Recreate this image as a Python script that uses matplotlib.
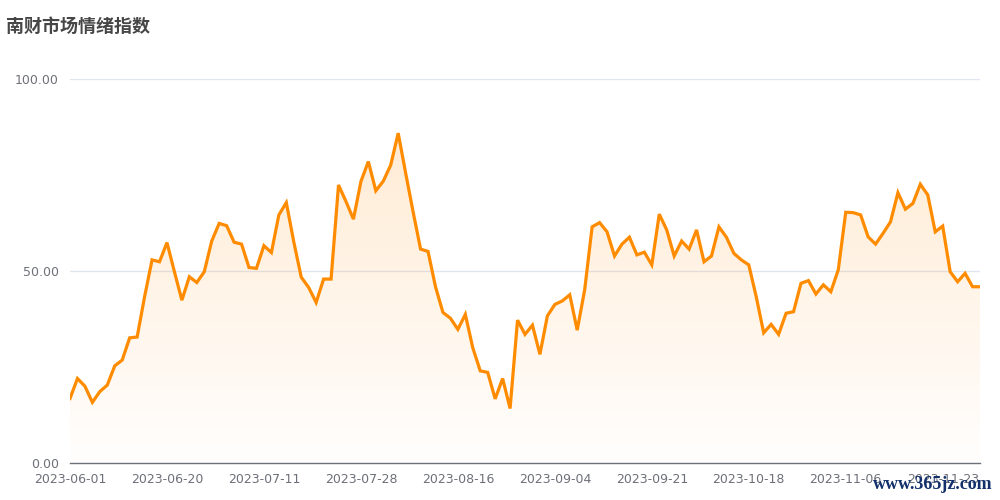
#Header files
import numpy as np
import pandas as pd
import matplotlib
matplotlib.use("Agg")
import matplotlib.pyplot as plt
from matplotlib.colors import LinearSegmentedColormap

plt.rcParams['font.family'] = ['DejaVu Sans', 'Noto Sans CJK SC']

#Trading days (Dragon Boat and National Day holidays removed)
holidays = ["2023-06-22", "2023-06-23", "2023-09-29", "2023-10-02", "2023-10-03",
            "2023-10-04", "2023-10-05", "2023-10-06"]
days = pd.bdate_range("2023-06-01", "2023-11-30")
days = days[~days.isin(pd.to_datetime(holidays))]
dateLabels = [d.strftime("%Y-%m-%d") for d in days]

#Index values
sentiment = [16.8, 22.0, 20.0, 15.8, 18.6, 20.3, 25.3, 26.8, 32.6, 32.8,
             43.3, 52.9, 52.4, 57.4, 49.8, 42.4, 48.5, 47.0, 49.8, 57.8,
             62.4, 61.8, 57.5, 57.0, 50.9, 50.7, 56.6, 54.8, 64.6, 67.8,
             57.6, 48.4, 45.7, 41.8, 47.9, 47.9, 72.4, 68.1, 63.5, 73.3,
             78.5, 70.9, 73.4, 77.6, 85.9, 75.5, 65.4, 55.7, 55.1, 45.9,
             39.2, 37.7, 34.8, 38.7, 30.0, 24.0, 23.6, 16.7, 22.0, 14.2,
             37.2, 33.5, 35.9, 28.3, 38.3, 41.3, 42.2, 43.8, 34.6, 45.1,
             61.5, 62.6, 60.2, 53.9, 57.0, 58.8, 54.2, 54.9, 51.6, 64.8,
             60.7, 53.9, 57.8, 55.7, 60.7, 52.4, 53.9, 61.5, 58.8, 54.6,
             52.9, 51.6, 43.3, 33.9, 36.1, 33.5, 39.0, 39.4, 46.8, 47.5,
             44.0, 46.4, 44.6, 50.3, 65.3, 65.2, 64.6, 58.9, 57.0, 59.8,
             62.8, 70.4, 66.1, 67.6, 72.6, 69.8, 60.2, 61.7, 49.8, 47.2,
             49.4, 45.9, 45.9]
yTicks = [0, 50, 100]

x = np.arange(len(sentiment))
y = np.array(sentiment)
lineColor = "#FF8C00"
axisGray = "#6E7079"

fig = plt.figure(figsize=(10, 5), dpi=100)
ax = fig.add_axes([0.07, 0.074, 0.91, 0.768])

#Gradient area under the line
fillPoly = ax.fill_between(x, y, 0, color="none", lw=0)
cmap = LinearSegmentedColormap.from_list(
    "fade", [(1, 0.55, 0, 0.01), (1, 0.55, 0, 0.17)])
grad = np.linspace(0, 1, 256).reshape(-1, 1)
img = ax.imshow(grad, cmap=cmap, origin="lower", aspect="auto",
                extent=[x[0], x[-1], 0, y.max()], zorder=1)
img.set_clip_path(fillPoly.get_paths()[0], transform=ax.transData)

ax.plot(x, y, color=lineColor, lw=2.3, zorder=3, solid_joinstyle="miter")

ax.set_xlim(x[0], x[-1])
ax.set_ylim(0, 100)
ax.set_yticks(yTicks)
ax.set_yticklabels(["%.2f" % v for v in yTicks])
tickIdx = list(range(0, len(dateLabels), 13))
ax.set_xticks(tickIdx)
ax.set_xticklabels([dateLabels[i] for i in tickIdx])
ax.tick_params(axis="both", length=0, colors=axisGray, labelsize=9)
ax.tick_params(axis="x", pad=7)
ax.tick_params(axis="y", pad=8)

for v in yTicks[1:]:
	ax.axhline(v, color="#E0E6F1", lw=1, zorder=0)
for s in ["top", "right", "left"]:
	ax.spines[s].set_visible(False)
ax.spines["bottom"].set_color(axisGray)
ax.spines["bottom"].set_linewidth(1)

fig.text(0.006, 0.936, "南财市场情绪指数", fontsize=13, fontweight="bold",
         color="#464646", family=["Noto Sans CJK SC", "DejaVu Sans"])
fig.text(0.993, 0.022, "www.365jz.com", fontsize=13, fontweight="bold",
         color="#12306B", family=["Liberation Serif", "DejaVu Serif"], ha="right")

fig.savefig("out.png", dpi=100)
